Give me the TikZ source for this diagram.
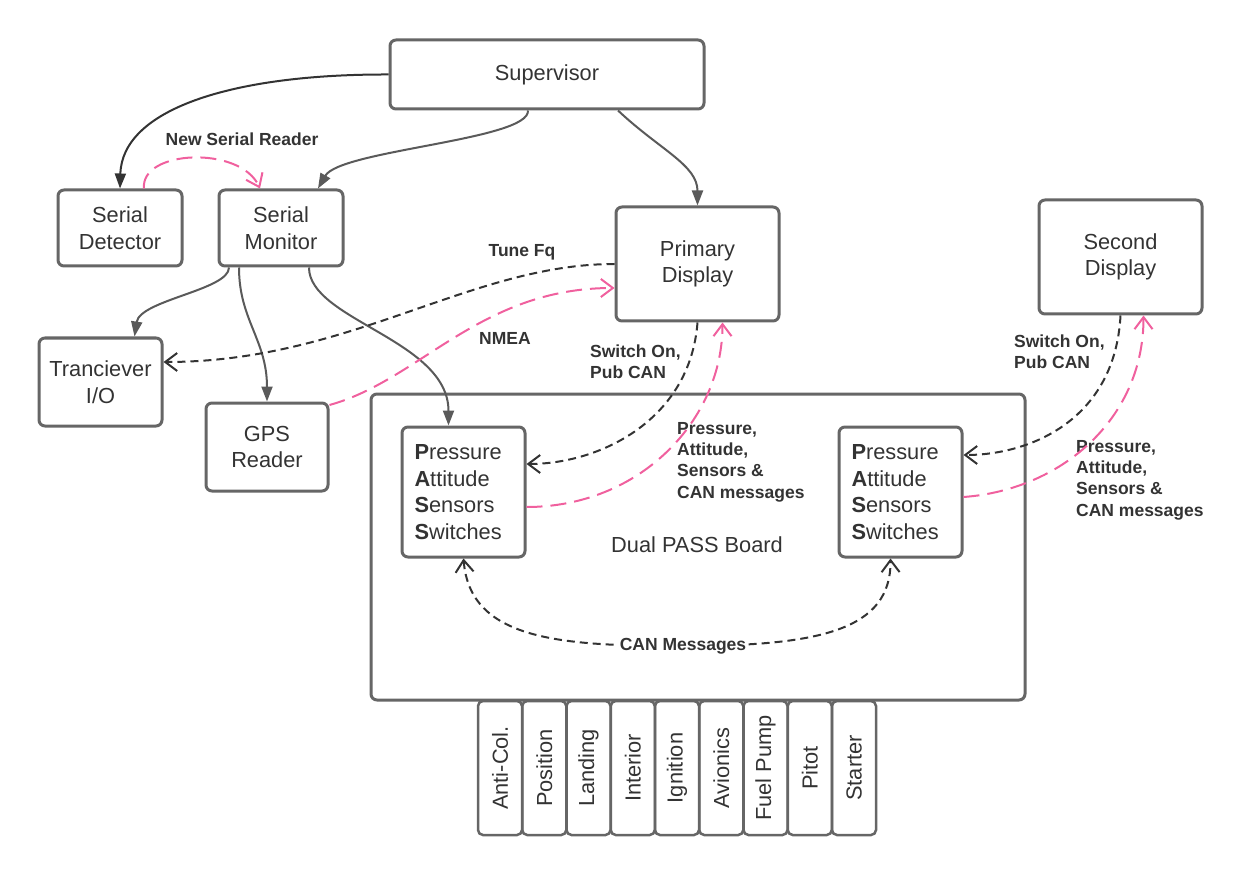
\documentclass[tikz,border=0pt]{standalone}
\usepackage{fontspec}
\setmainfont{Liberation Sans}
\usetikzlibrary{arrows.meta}
\definecolor{boxline}{HTML}{666666}
\definecolor{inktext}{HTML}{333333}
\definecolor{linkgray}{HTML}{5A5A5A}
\definecolor{linkpink}{HTML}{F0609E}
\begin{document}
\begin{tikzpicture}[x=1pt,y=-1pt,
    block/.style={draw=boxline,line width=3pt,rounded corners=6pt,text=inktext,
      font=\fontsize{21.8}{26.7}\selectfont,align=center,inner sep=0pt},
    passbox/.style={block,align=left,text width=98pt,minimum width=123pt,minimum height=130pt},
    switchbox/.style={block,line width=2.5pt,rounded corners=5pt,rotate=90,
      minimum width=134pt,minimum height=44pt},
    lbl/.style={text=inktext,font=\fontsize{17.5}{21.3}\selectfont\bfseries,
      align=left,inner sep=0pt},
    feed/.style={draw=linkgray,line width=2pt,-{Triangle[length=15pt,width=11pt]}},
    msg/.style={draw=inktext,line width=2pt,dash pattern=on 8pt off 5pt,
      -{Straight Barb[length=12pt,width=18pt]}},
    pinkmsg/.style={draw=linkpink,line width=2pt,dash pattern=on 16pt off 8pt,
      -{Straight Barb[length=12pt,width=18pt]}}]
  \useasboundingbox (0,0) rectangle (1245,877);
  % boxes
  \node[block,minimum width=314pt,minimum height=69pt] (sup) at (547,74.5) {Supervisor};
  \node[block,minimum width=124pt,minimum height=76pt] (sdet) at (120,228) {Serial\\Detector};
  \node[block,minimum width=124pt,minimum height=76pt] (smon) at (281,228) {Serial\\Monitor};
  \node[block,minimum width=163pt,minimum height=114pt] (pdisp) at (697.5,264) {Primary\\Display};
  \node[block,minimum width=163pt,minimum height=114pt] (sdisp) at (1120.5,257) {Second\\Display};
  \node[block,minimum width=123pt,minimum height=88pt] (trx) at (100.5,382) {Tranciever\\I/O};
  \node[block,minimum width=122pt,minimum height=88pt] (gps) at (267,447) {GPS\\Reader};
  \node[block,minimum width=654pt,minimum height=306pt] (board) at (698,547) {};
  \node[text=inktext,font=\fontsize{21.8}{26.7}\selectfont,inner sep=0pt] (boardlbl) at (697,545) {Dual PASS Board};
  \node[passbox] (pass1) at (463.5,492)
    {\textbf{P}ressure\\\textbf{A}ttitude\\\textbf{S}ensors\\\textbf{S}witches};
  \node[passbox] (pass2) at (900.5,492)
    {\textbf{P}ressure\\\textbf{A}ttitude\\\textbf{S}ensors\\\textbf{S}witches};
  \foreach \swname [count=\i from 0] in {Anti-Col.,Position,Landing,Interior,Ignition,Avionics,Fuel Pump,Pitot,Starter}
    \node[switchbox] (sw\i) at ({500+44.25*\i},768) {\swname};
  % labels
  \node[lbl] (newlbl) at (242,139) {New Serial Reader};
  \node[lbl] (tunelbl) at (522,252) {Tune Fq};
  \node[lbl] (nmealbl) at (505,338) {NMEA};
  \node[lbl,anchor=west] (onlbl1) at (590,361.5) {Switch On,\\Pub CAN};
  \node[lbl,anchor=west] (datalbl1) at (677,462) {Pressure,\\Attitude,\\Sensors \&\\CAN messages};
  \node[lbl,anchor=west] (onlbl2) at (1014,351.5) {Switch On,\\Pub CAN};
  \node[lbl,anchor=west] (datalbl2) at (1076,480) {Pressure,\\Attitude,\\Sensors \&\\CAN messages};
  % supervisor links
  \draw[feed,draw=inktext] (sup.west) .. controls (230,74) and (122,110) .. (sdet.north);
  \draw[feed] ([xshift=-19pt]sup.south) .. controls (530,140) and (340,150) .. ([xshift=37pt]smon.north);
  \draw[feed] ([xshift=71pt]sup.south) .. controls (660,150) and (697.5,165) .. (pdisp.north);
  \draw[pinkmsg] ([xshift=24pt]sdet.north) .. controls (140,150) and (240,145) .. ([xshift=-21pt]smon.north);
  % serial monitor links
  \draw[feed] ([xshift=-52pt]smon.south) .. controls (229,290) and (140,300) .. ([xshift=34pt]trx.north);
  \draw[feed] ([xshift=-42pt]smon.south) .. controls (239,320) and (267,340) .. (gps.north);
  \draw[feed] ([xshift=28pt]smon.south) .. controls (309,320) and (448.5,340) .. ([xshift=-15pt]pass1.north);
  % messages
  \draw[msg] (pdisp.west) .. controls (470,264) and (350,362) .. ([yshift=20pt]trx.east);
  \draw[pinkmsg] ([yshift=42pt]gps.east) .. controls (420,380) and (480,288) .. ([yshift=-24pt]pdisp.west);
  \draw[msg] (pdisp.south) .. controls (690,420) and (600,464) .. ([yshift=28pt]pass1.east);
  \draw[pinkmsg] ([yshift=-15pt]pass1.east) .. controls (640,507) and (722.5,420) .. ([xshift=25pt]pdisp.south);
  \draw[msg] (sdisp.south) .. controls (1115,420) and (1030,455) .. ([yshift=37pt]pass2.east);
  \draw[pinkmsg] ([yshift=-5pt]pass2.east) .. controls (1060,490) and (1143.5,420) .. ([xshift=23pt]sdisp.south);
  \draw[msg,{Straight Barb[length=12pt,width=18pt]}-{Straight Barb[length=12pt,width=18pt]}]
    (pass1.south) .. controls (470,640) and (560,646) .. (683,646)
    node[lbl,fill=white,inner sep=2pt] (canlbl) {CAN Messages}
    .. controls (820,646) and (891,630) .. ([xshift=-10pt]pass2.south);
\end{tikzpicture}
\end{document}
